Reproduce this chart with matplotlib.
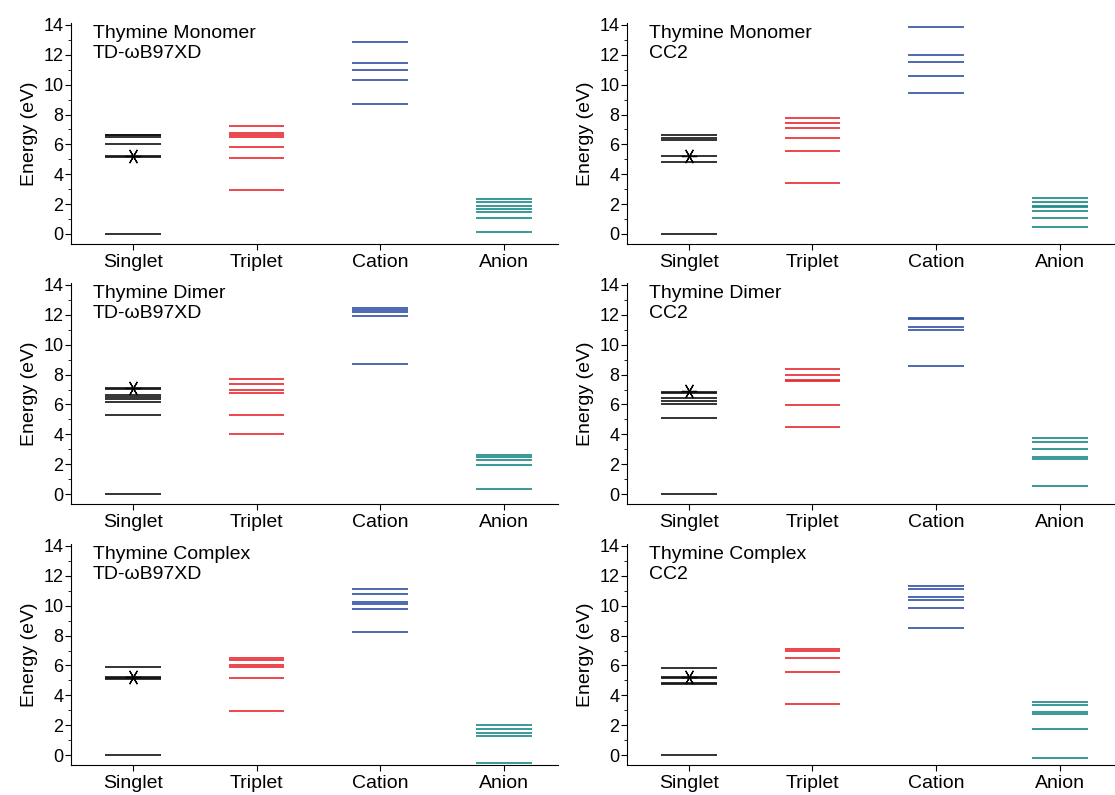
import numpy as np
import matplotlib
matplotlib.use("Agg")
import matplotlib.pyplot as plt
from matplotlib.ticker import MultipleLocator

plt.rcParams['font.family'] = ['Liberation Sans', 'DejaVu Sans']

states = ['Singlet', 'Triplet', 'Cation', 'Anion']
colors = ['#111111', '#e8262e', '#2d50a5', '#178985']

# Thymine monomer, TD-wB97XD
mono_wb_singlet = [6.66, 6.60, 6.48, 6.00, 5.25, 5.16, 0.0]
mono_wb_triplet = [7.25, 6.78, 6.60, 6.52, 5.85, 5.11, 2.95]
mono_wb_cation = [12.86, 11.45, 10.98, 10.31, 8.71]
mono_wb_anion = [2.37, 2.12, 1.88, 1.65, 1.47, 1.05, 0.13]
mono_wb_star = 5.25

# Thymine monomer, CC2
mono_cc_singlet = [6.63, 6.43, 6.28, 5.25, 4.85, 0.0]
mono_cc_triplet = [7.75, 7.42, 7.10, 6.46, 5.59, 3.42]
mono_cc_cation = [13.85, 11.98, 11.55, 10.55, 9.43]
mono_cc_anion = [2.41, 2.12, 1.85, 1.79, 1.52, 1.07, 0.45]
mono_cc_star = 5.25

# Thymine dimer, TD-wB97XD
dimer_wb_singlet = [7.08, 7.02, 6.65, 6.50, 6.35, 6.15, 5.28, 0.0]
dimer_wb_triplet = [7.70, 7.34, 7.00, 6.78, 5.28, 4.00]
dimer_wb_cation = [12.46, 12.33, 12.17, 11.95, 8.70]
dimer_wb_anion = [2.59, 2.46, 2.28, 1.95, 0.36]
dimer_wb_star = 7.12

# Thymine dimer, CC2
dimer_cc_singlet = [6.84, 6.78, 6.44, 6.22, 6.02, 5.12, 0.0]
dimer_cc_triplet = [8.39, 7.96, 7.63, 7.54, 5.93, 4.50]
dimer_cc_cation = [11.79, 11.72, 11.21, 10.96, 8.59]
dimer_cc_anion = [3.74, 3.49, 3.04, 2.46, 2.37, 0.51]
dimer_cc_star = 6.88

# Thymine complex, TD-wB97XD
comp_wb_singlet = [5.87, 5.25, 5.16, 5.07, 0.0]
comp_wb_triplet = [6.52, 6.37, 6.01, 5.92, 5.13, 2.98]
comp_wb_cation = [11.10, 10.81, 10.27, 10.13, 9.78, 8.27]
comp_wb_anion = [2.02, 1.73, 1.50, 1.28, -0.52]
comp_wb_star = 5.25

# Thymine complex, CC2
comp_cc_singlet = [5.81, 5.22, 5.13, 4.82, 4.74, 0.0]
comp_cc_triplet = [7.11, 6.97, 6.48, 5.56, 3.43]
comp_cc_cation = [11.32, 11.10, 10.58, 10.38, 9.87, 8.50]
comp_cc_anion = [3.54, 3.34, 2.91, 2.78, 1.77, -0.18]
comp_cc_star = 5.20

panels = [
    ('Thymine Monomer\nTD-\u03c9B97XD',
     [mono_wb_singlet, mono_wb_triplet, mono_wb_cation, mono_wb_anion], mono_wb_star),
    ('Thymine Monomer\nCC2',
     [mono_cc_singlet, mono_cc_triplet, mono_cc_cation, mono_cc_anion], mono_cc_star),
    ('Thymine Dimer\nTD-\u03c9B97XD',
     [dimer_wb_singlet, dimer_wb_triplet, dimer_wb_cation, dimer_wb_anion], dimer_wb_star),
    ('Thymine Dimer\nCC2',
     [dimer_cc_singlet, dimer_cc_triplet, dimer_cc_cation, dimer_cc_anion], dimer_cc_star),
    ('Thymine Complex\nTD-\u03c9B97XD',
     [comp_wb_singlet, comp_wb_triplet, comp_wb_cation, comp_wb_anion], comp_wb_star),
    ('Thymine Complex\nCC2',
     [comp_cc_singlet, comp_cc_triplet, comp_cc_cation, comp_cc_anion], comp_cc_star),
]

fig = plt.figure(figsize=(11.15, 7.95), dpi=100)

lefts = [0.0637, 0.5623]
bottoms = [0.6931, 0.366, 0.0377]
w, h = 0.437, 0.2774
half = 0.225

for i, (label, levels, star) in enumerate(panels):
    ax = fig.add_axes([lefts[i % 2], bottoms[i // 2], w, h])
    for j, vals in enumerate(levels):
        x = j + 1
        ax.hlines(vals, x - half, x + half, color=colors[j], lw=1.2)
    # asterisk marker with a vertical arm, as in the original
    ax.plot(1, star, marker=(6, 2, 90), color='black', ms=11, mew=0.9, ls='none')

    ax.set_xlim(0.5, 4.44)
    ax.set_ylim(-0.67, 14.1)
    ax.set_xticks(range(1, 5))
    ax.set_xticklabels(states, fontsize=14)
    ax.yaxis.set_major_locator(MultipleLocator(2))
    ax.yaxis.set_minor_locator(MultipleLocator(1))
    ax.tick_params(axis='y', which='major', labelsize=13, length=4, pad=1.5, direction='out')
    ax.tick_params(axis='y', which='minor', length=2.5, direction='out')
    ax.tick_params(axis='x', length=4, pad=3.5, direction='out')
    ax.set_ylabel('Energy (eV)', fontsize=14, labelpad=4)
    for s in ['top', 'right']:
        ax.spines[s].set_visible(False)
    ax.text(0.045, 0.995, label, transform=ax.transAxes, ha='left', va='top',
            fontsize=14, linespacing=1.3)

fig.savefig('out.png', dpi=100)
